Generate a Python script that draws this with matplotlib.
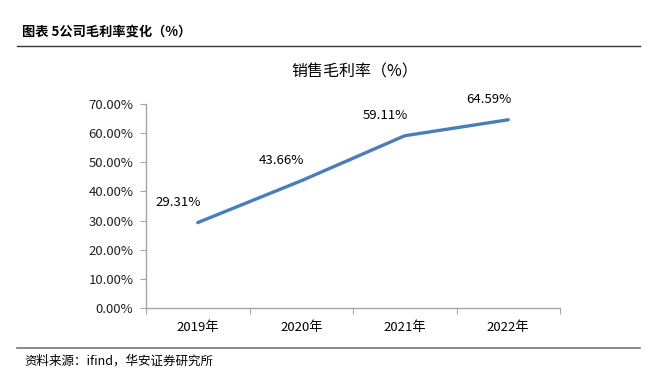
import matplotlib
matplotlib.use("Agg")
import matplotlib.pyplot as plt
from matplotlib.lines import Line2D

plt.rcParams['font.family'] = ['Noto Sans CJK SC', 'DejaVu Sans']

years = ['2019年', '2020年', '2021年', '2022年']
margin = [29.31, 43.66, 59.11, 64.59]
yticks = [0, 10, 20, 30, 40, 50, 60, 70]
header = '图表 5公司毛利率变化（%）'
chart_title = '销售毛利率（%）'
source = '资料来源：ifind，华安证券研究所'

fig = plt.figure(figsize=(6.65, 3.75), dpi=100)
ax = fig.add_axes([146/665, 1-308/375, (560-146)/665, (308-104)/375])

x = list(range(len(years)))
ax.plot(x, margin, color='#4A7EBB', lw=2.4, solid_capstyle='round')
for xi, v in zip(x, margin):
    ax.annotate(f'{v:.2f}%', (xi, v), xytext=(-14, 10), textcoords='offset points',
                ha='center', va='bottom', fontsize=9.5, color='black')

ax.set_xlim(-0.5, len(years) - 0.5)
ax.set_ylim(0, 70)
ax.set_yticks(yticks)
ax.set_yticklabels([f'{t:.2f}%' for t in yticks], fontsize=9.5, color='#222222')
ax.set_xticks([i - 0.5 for i in range(len(years) + 1)])
ax.set_xticklabels([])
ax.set_xticks(x, minor=True)
ax.set_xticklabels(years, minor=True, fontsize=9.5)
ax.tick_params(axis='x', which='minor', length=0, pad=9)
ax.tick_params(axis='x', which='major', length=4, color='#A6A6A6', direction='out')
ax.tick_params(axis='y', length=4, color='#A6A6A6', direction='out', pad=5)
for s in ['top', 'right']:
    ax.spines[s].set_visible(False)
for s in ['left', 'bottom']:
    ax.spines[s].set_color('#A6A6A6')
    ax.spines[s].set_linewidth(1)

fig.text(355/665, 1-72/375, chart_title, ha='center', va='center', fontsize=11.5)
fig.text(22/665, 1-32/375, header, ha='left', va='center', fontsize=9.5, fontweight='bold')
fig.add_artist(Line2D([17/665, 640/665], [1-46/375, 1-46/375], color='#333333', lw=1))
fig.add_artist(Line2D([17/665, 640/665], [1-348/375, 1-348/375], color='#777777', lw=1.2))
fig.text(24/665, 1-361/375, source, ha='left', va='center', fontsize=9)

fig.savefig('out.png', dpi=100)
